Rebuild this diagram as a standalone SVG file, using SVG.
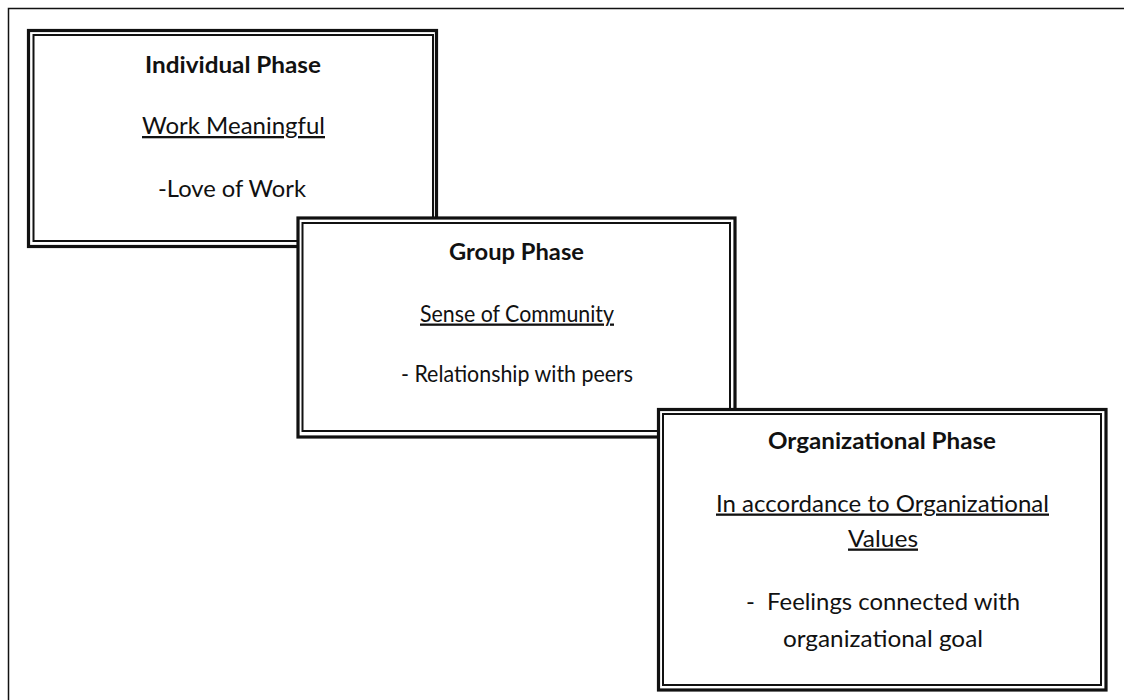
<svg xmlns="http://www.w3.org/2000/svg" width="1124" height="700" viewBox="0 0 1124 700">
  <style>
    .outer { fill: #ffffff; stroke: #111111; stroke-width: 3.2; }
    .inner { fill: none; stroke: #111111; stroke-width: 2; }
    .frame { fill: none; stroke: #111111; stroke-width: 1.5; }
    text { font-family: Lato, "Open Sans", "Liberation Sans", sans-serif; font-size: 23px; fill: #111111; }
    .title { font-weight: bold; }
    .sub { text-decoration: underline; }
  </style>

  <!-- page frame: only top and left edges are drawn -->
  <path class="frame" d="M8.5,700 V8.5 H1124"/>

  <g id="connectors"></g>

  <g id="individual-phase">
    <rect class="outer" x="28.5" y="30.5" width="408" height="216"/>
    <rect class="inner" x="33.5" y="35" width="399.5" height="206"/>
    <text class="title" x="145" y="72.5" textLength="176" lengthAdjust="spacingAndGlyphs">Individual Phase</text>
    <text class="sub" x="142" y="134" textLength="183" lengthAdjust="spacingAndGlyphs">Work Meaningful</text>
    <text x="158" y="197" textLength="148" lengthAdjust="spacingAndGlyphs">-Love of Work</text>
  </g>

  <g id="group-phase">
    <rect class="outer" x="298" y="218" width="437" height="219"/>
    <rect class="inner" x="302.5" y="223" width="427.5" height="208"/>
    <text class="title" x="449" y="260" textLength="135" lengthAdjust="spacingAndGlyphs">Group Phase</text>
    <text class="sub" x="420" y="321.5" textLength="194" lengthAdjust="spacingAndGlyphs">Sense of Community</text>
    <text x="401" y="381.5" textLength="232" lengthAdjust="spacingAndGlyphs">- Relationship with peers</text>
  </g>

  <g id="organizational-phase">
    <rect class="outer" x="658.5" y="409.5" width="447.5" height="280.5"/>
    <rect class="inner" x="663" y="414" width="438" height="271"/>
    <text class="title" x="768" y="449" textLength="228" lengthAdjust="spacingAndGlyphs">Organizational Phase</text>
    <text class="sub" x="716" y="511.5" textLength="333" lengthAdjust="spacingAndGlyphs">In accordance to Organizational</text>
    <text class="sub" x="848" y="546.5" textLength="70" lengthAdjust="spacingAndGlyphs">Values</text>
    <text x="746" y="610" textLength="274" lengthAdjust="spacingAndGlyphs" xml:space="preserve">-  Feelings connected with</text>
    <text x="783" y="646.5" textLength="200" lengthAdjust="spacingAndGlyphs">organizational goal</text>
  </g>
</svg>
